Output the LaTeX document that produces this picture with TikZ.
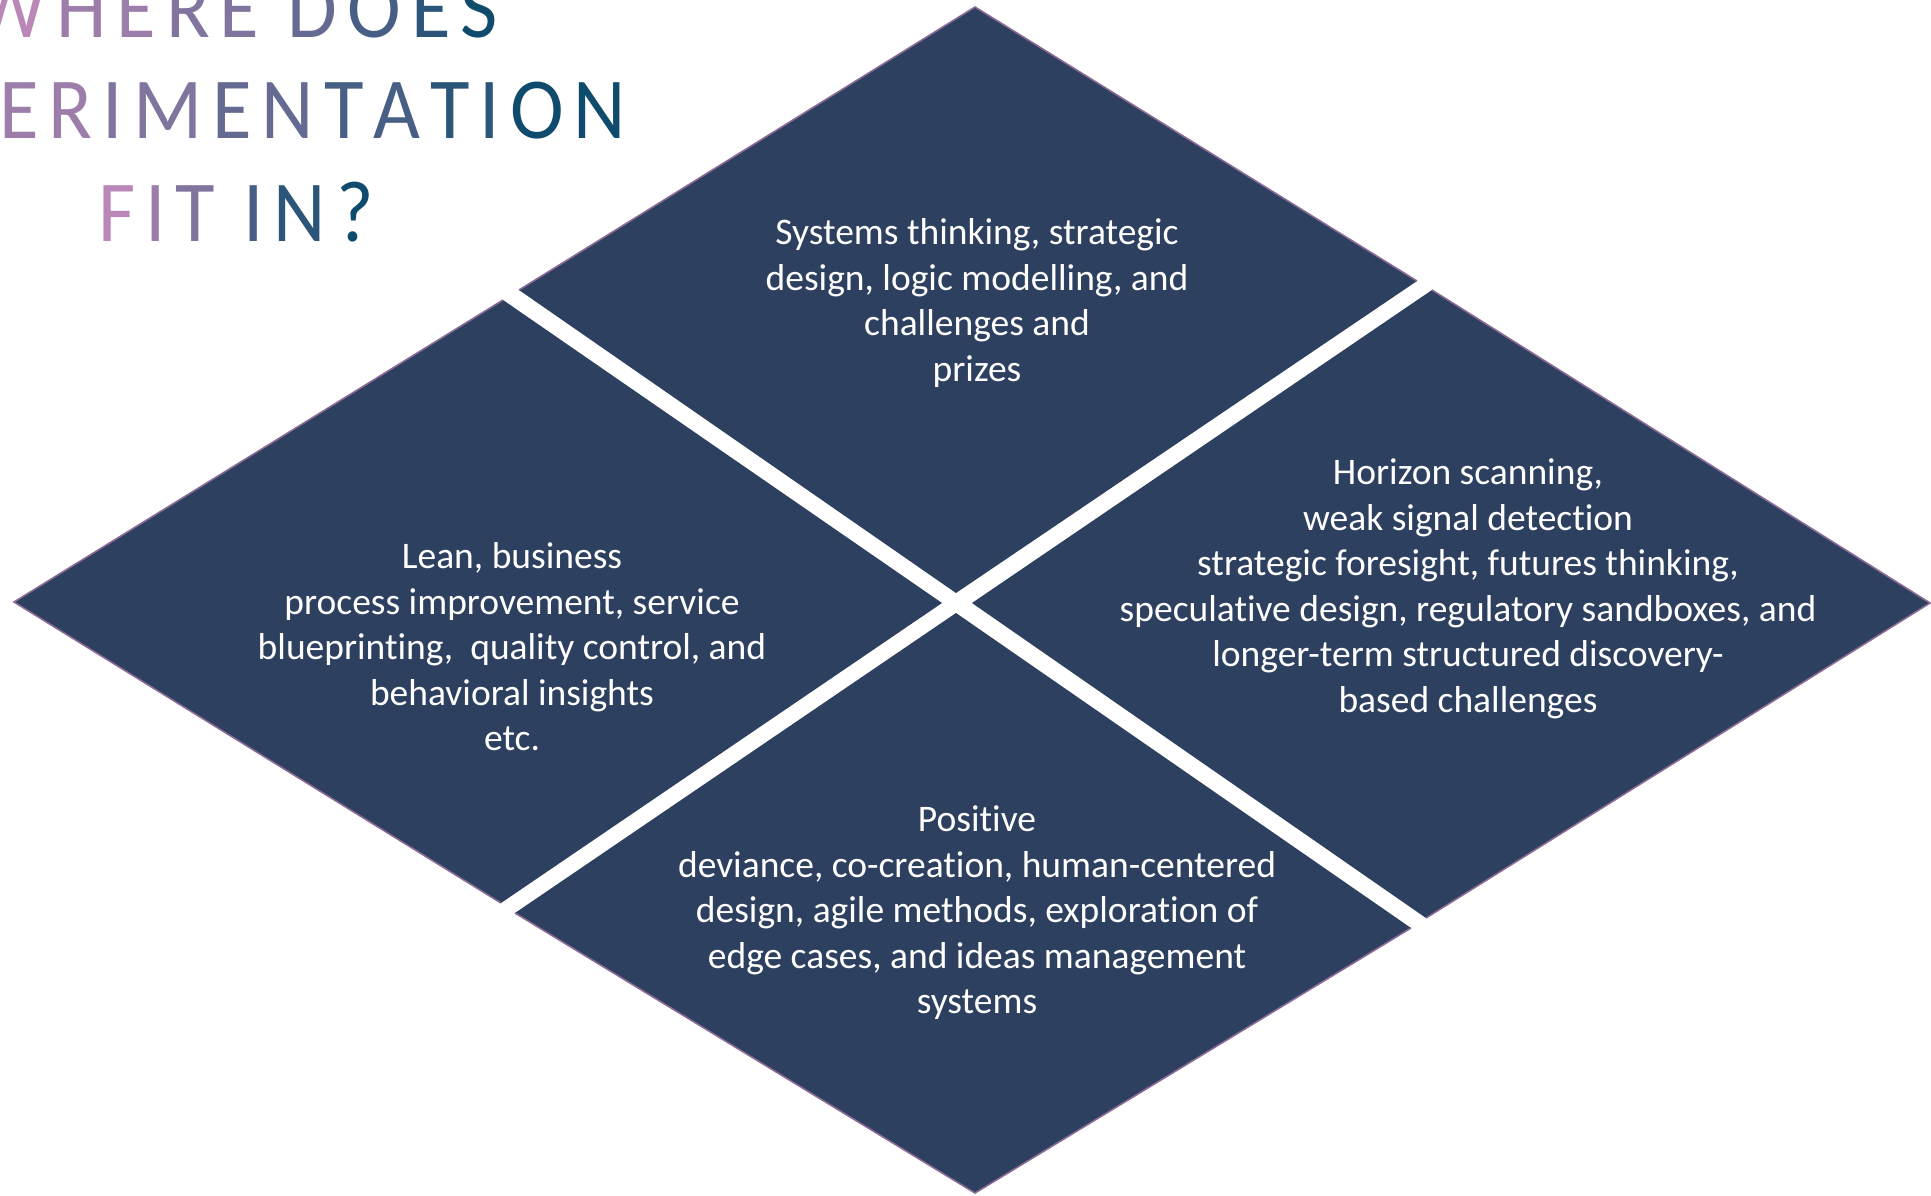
\documentclass[tikz,border=0pt]{standalone}
\usepackage{fontspec}
\setmainfont[Ligatures=NoCommon]{Carlito}
\newfontfamily\titlefont[FakeStretch=0.93]{Carlito}
\definecolor{navy}{HTML}{2E405F}
\definecolor{rim}{HTML}{8A6A94}
\definecolor{tA}{HTML}{BA88B8}
\definecolor{tC}{HTML}{0E4B6C}
\colorlet{g0}{tA}
\colorlet{g1}{tC!17!tA}
\colorlet{g2}{tC!33!tA}
\colorlet{g3}{tC!50!tA}
\colorlet{g4}{tC!67!tA}
\colorlet{g5}{tC!83!tA}
\colorlet{g6}{tC}
\newcommand\grl[2]{\textcolor{#1}{#2}\kern10pt\relax}
\newcommand\grlast[2]{\textcolor{#1}{#2}}
\tikzset{
  quad/.style={fill=navy, draw=none},
  rimline/.style={draw=rim, line width=1.6pt, line join=miter},
  body/.style={text=white, align=center, inner sep=0pt, font=\fontsize{37.5}{45.5}\selectfont},
  ttl/.style={anchor=base, inner sep=0pt, font=\titlefont\fontsize{87}{103}\selectfont}
}
\begin{document}
\begin{tikzpicture}[x=1pt,y=-1pt]
\clip (0,0) rectangle (1931,1195);
\fill[white] (0,0) rectangle (1931,1195);
% quadrants
\coordinate (tT) at (975,7);    \coordinate (tR) at (1417,281); \coordinate (tB) at (956,593); \coordinate (tL) at (519,290);
\coordinate (lT) at (503,300);  \coordinate (lR) at (942,603);  \coordinate (lB) at (501,903); \coordinate (lL) at (14,602);
\coordinate (rT) at (1432,290); \coordinate (rR) at (1930,603); \coordinate (rB) at (1426,918); \coordinate (rL) at (972,603);
\coordinate (bT) at (956,613);  \coordinate (bR) at (1411,928); \coordinate (bB) at (975,1193); \coordinate (bL) at (515,913);
\path[quad] (tT) -- (tR) -- (tB) -- (tL) -- cycle;
\path[quad] (lT) -- (lR) -- (lB) -- (lL) -- cycle;
\path[quad] (rT) -- (rR) -- (rB) -- (rL) -- cycle;
\path[quad] (bT) -- (bR) -- (bB) -- (bL) -- cycle;
\draw[rimline] (tL) -- (tT) -- (tR);
\draw[rimline] (lT) -- (lL) -- (lB);
\draw[rimline] (rT) -- (rR) -- (rB);
\draw[rimline] (bL) -- (bB) -- (bR);
% texts
\node[body] (ttop) at (977,303) {Systems thinking, strategic\\design, logic modelling, and\\challenges and\\prizes};
\node[body] (tleft) at (512,647) {Lean, business\\process improvement, service\\blueprinting,~ quality control, and\\behavioral insights\\etc.};
\node[body] (tright) at (1468,589) {Horizon scanning,\\weak signal detection\\strategic foresight, futures thinking,\\speculative design, regulatory sandboxes, and\\longer-term structured discovery-\\based challenges};
\node[body] (tbot) at (977,913) {Positive\\deviance, co-creation, human-centered\\design, agile methods, exploration of\\edge cases, and ideas management\\systems};
% title
\node[ttl] (title1) at (236,37) {\grl{g0}{W}\grl{g1}{H}\grl{g1}{E}\grl{g2}{R}\grl{g2}{E} \grl{g3}{D}\grl{g4}{O}\grl{g5}{E}\grlast{g6}{S}};
\node[ttl] (title2) at (236,138) {\grl{g0}{E}\grl{g0}{X}\grl{g0}{P}\grl{g1}{E}\grl{g1}{R}\grl{g2}{I}\grl{g2}{M}\grl{g3}{E}\grl{g3}{N}\grl{g4}{T}\grl{g4}{A}\grl{g5}{T}\grl{g5}{I}\grl{g6}{O}\grlast{g6}{N}};
\node[ttl] (title3) at (236,241) {\grl{g0}{F}\grl{g1}{I}\grl{g2}{T} \grl{g4}{I}\grl{g5}{N}\grlast{g6}{?}};
\end{tikzpicture}
\end{document}
